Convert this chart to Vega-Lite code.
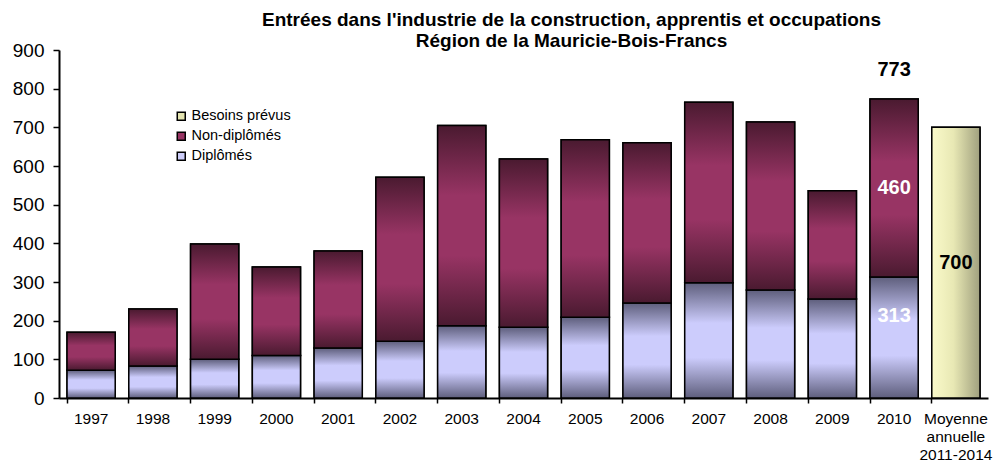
{
  "$schema": "https://vega.github.io/schema/vega-lite/v6.json",
  "autosize": {"type": "none"},
  "width": 929,
  "height": 348,
  "padding": {"left": 59, "top": 50, "right": 7, "bottom": 64},
  "background": "white",
  "config": {
    "view": {"stroke": null},
    "font": "Liberation Sans"
  },
  "title": {
    "text": ["Entrées dans l'industrie de la construction, apprentis et occupations", "Région de la Mauricie-Bois-Francs"],
    "font": "Liberation Sans",
    "fontSize": 19,
    "fontWeight": "bold",
    "color": "black",
    "anchor": "middle",
    "frame": "group",
    "dx": 48,
    "dy": 12,
    "offset": 2,
    "lineHeight": 21
  },
  "data": {
    "values": [
      {"annee": "1997", "serie": "Diplômés", "value": 72},
      {"annee": "1997", "serie": "Non-diplômés", "value": 98},
      {"annee": "1998", "serie": "Diplômés", "value": 83},
      {"annee": "1998", "serie": "Non-diplômés", "value": 147},
      {"annee": "1999", "serie": "Diplômés", "value": 100},
      {"annee": "1999", "serie": "Non-diplômés", "value": 298},
      {"annee": "2000", "serie": "Diplômés", "value": 110},
      {"annee": "2000", "serie": "Non-diplômés", "value": 229},
      {"annee": "2001", "serie": "Diplômés", "value": 129},
      {"annee": "2001", "serie": "Non-diplômés", "value": 251},
      {"annee": "2002", "serie": "Diplômés", "value": 147},
      {"annee": "2002", "serie": "Non-diplômés", "value": 424},
      {"annee": "2003", "serie": "Diplômés", "value": 187},
      {"annee": "2003", "serie": "Non-diplômés", "value": 518},
      {"annee": "2004", "serie": "Diplômés", "value": 183},
      {"annee": "2004", "serie": "Non-diplômés", "value": 435},
      {"annee": "2005", "serie": "Diplômés", "value": 209},
      {"annee": "2005", "serie": "Non-diplômés", "value": 459},
      {"annee": "2006", "serie": "Diplômés", "value": 246},
      {"annee": "2006", "serie": "Non-diplômés", "value": 414},
      {"annee": "2007", "serie": "Diplômés", "value": 298},
      {"annee": "2007", "serie": "Non-diplômés", "value": 467},
      {"annee": "2008", "serie": "Diplômés", "value": 279},
      {"annee": "2008", "serie": "Non-diplômés", "value": 435},
      {"annee": "2009", "serie": "Diplômés", "value": 256},
      {"annee": "2009", "serie": "Non-diplômés", "value": 280},
      {"annee": "2010", "serie": "Diplômés", "value": 313},
      {"annee": "2010", "serie": "Non-diplômés", "value": 460},
      {"annee": "Moyenne annuelle 2011-2014", "serie": "Besoins prévus", "value": 700}
    ]
  },
  "transform": [
    {"stack": "value", "groupby": ["annee"], "sort": [{"field": "serie", "order": "ascending"}], "as": ["v0", "v1"]}
  ],
  "encoding": {
    "x": {
      "field": "annee", "type": "nominal", "sort": null,
      "scale": {"paddingInner": 0.22, "paddingOuter": 0.13},
      "axis": {
        "title": null, "labelAngle": 0, "labelFontSize": 15.5, "labelColor": "black",
        "labelFont": "Liberation Sans",
        "labelExpr": "datum.label == 'Moyenne annuelle 2011-2014' ? ['Moyenne', 'annuelle', '2011-2014'] : datum.label",
        "labelLineHeight": 18, "labelPadding": 8,
        "domainColor": "black", "domainWidth": 2, "tickColor": "black", "tickWidth": 1.5, "tickSize": 5,
        "bandPosition": 0, "grid": false
      }
    },
    "y": {
      "field": "v1", "type": "quantitative",
      "scale": {"domain": [0, 900], "nice": false},
      "axis": {
        "title": null, "values": [0, 100, 200, 300, 400, 500, 600, 700, 800, 900],
        "labelFontSize": 19, "labelColor": "black", "labelFont": "Liberation Sans", "labelPadding": 9,
        "domainColor": "black", "domainWidth": 2, "tickColor": "black", "tickWidth": 1.5, "tickSize": 6, "grid": false
      }
    },
    "y2": {"field": "v0"}
  },
  "layer": [
    {
      "mark": {"type": "bar", "stroke": "black", "strokeWidth": 1.5},
      "encoding": {
        "color": {
          "field": "serie", "type": "nominal",
          "scale": {"domain": ["Besoins prévus", "Non-diplômés", "Diplômés"], "range": ["#e4e4b0", "#983464", "#ccccf8"]},
          "legend": {
            "title": null, "orient": "none", "legendX": 115, "legendY": 59,
            "symbolType": "square", "symbolSize": 64, "symbolStrokeColor": "black", "symbolStrokeWidth": 1.5,
            "labelFontSize": 14.5, "labelColor": "black", "labelFont": "Liberation Sans",
            "rowPadding": 4, "labelOffset": 3, "symbolOpacity": 1
          }
        }
      }
    },
    {
      "transform": [{"filter": "datum.serie == 'Diplômés'"}],
      "mark": {
        "type": "bar", "stroke": "black", "strokeWidth": 1.5,
        "fill": {"gradient": "linear", "x1": 0, "y1": 0, "x2": 0, "y2": 1,
          "stops": [
            {"offset": 0, "color": "#5e5e7c"},
            {"offset": 0.35, "color": "#ccccfc"},
            {"offset": 0.65, "color": "#ccccfc"},
            {"offset": 1, "color": "#5e5e7c"}
          ]}
      }
    },
    {
      "transform": [{"filter": "datum.serie == 'Non-diplômés'"}],
      "mark": {
        "type": "bar", "stroke": "black", "strokeWidth": 1.5,
        "fill": {"gradient": "linear", "x1": 0, "y1": 0, "x2": 0, "y2": 1,
          "stops": [
            {"offset": 0, "color": "#4a1a30"},
            {"offset": 0.35, "color": "#983464"},
            {"offset": 0.65, "color": "#983464"},
            {"offset": 1, "color": "#4a1a30"}
          ]}
      }
    },
    {
      "transform": [{"filter": "datum.serie == 'Besoins prévus'"}],
      "mark": {
        "type": "bar", "stroke": "black", "strokeWidth": 1.5,
        "fill": {"gradient": "linear", "x1": 0, "y1": 0, "x2": 1, "y2": 0,
          "stops": [
            {"offset": 0, "color": "#fafaca"},
            {"offset": 0.45, "color": "#e8e8b4"},
            {"offset": 1, "color": "#a0a07e"}
          ]}
      }
    },
    {
      "transform": [{"filter": "datum.annee == '2010' && datum.serie == 'Non-diplômés'"}],
      "mark": {"type": "text", "fontSize": 20, "fontWeight": "bold", "color": "black", "dy": -29, "baseline": "middle"},
      "encoding": {"text": {"field": "v1", "type": "quantitative"}}
    },
    {
      "transform": [{"filter": "datum.annee == '2010' && datum.serie == 'Non-diplômés'"}],
      "mark": {"type": "text", "fontSize": 20, "fontWeight": "bold", "color": "white", "dy": 89, "baseline": "middle"},
      "encoding": {"text": {"field": "value", "type": "quantitative"}}
    },
    {
      "transform": [{"filter": "datum.annee == '2010' && datum.serie == 'Diplômés'"}],
      "mark": {"type": "text", "fontSize": 20, "fontWeight": "bold", "color": "white", "dy": 39, "baseline": "middle"},
      "encoding": {"text": {"field": "value", "type": "quantitative"}}
    },
    {
      "transform": [{"filter": "datum.serie == 'Besoins prévus'"}],
      "mark": {"type": "text", "fontSize": 20, "fontWeight": "bold", "color": "black", "dy": 136, "baseline": "middle"},
      "encoding": {"text": {"field": "value", "type": "quantitative"}}
    }
  ]
}
